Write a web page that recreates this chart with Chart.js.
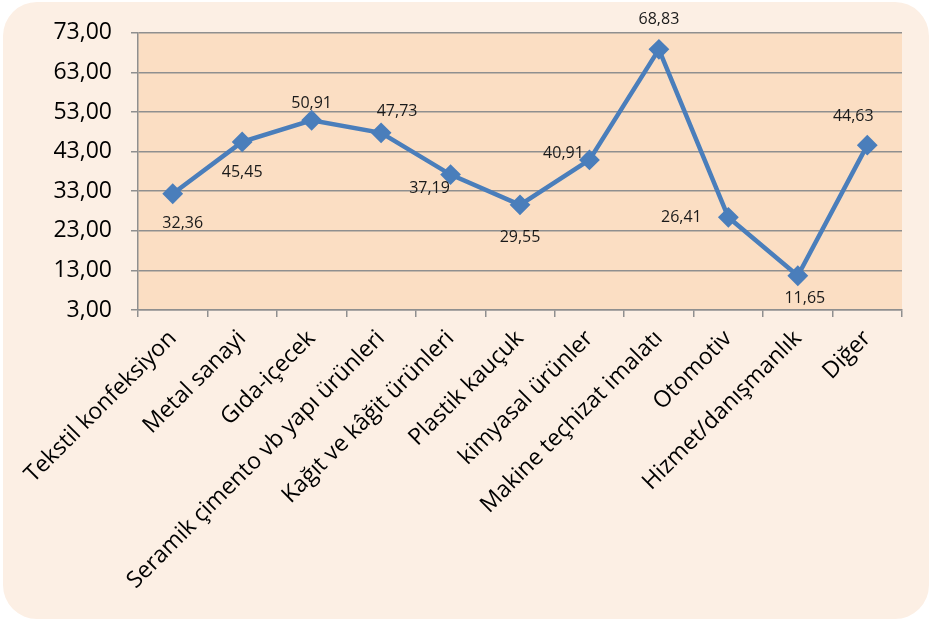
<!DOCTYPE html>
<html>
<head>
<meta charset="utf-8">
<script src="https://cdn.jsdelivr.net/npm/chart.js@4.4.1/dist/chart.umd.min.js"></script>
<style>
    html, body { margin: 0; padding: 0; background: #ffffff; }
    .chart-box { width: 932px; height: 623px; }
</style>
</head>
<body>
<div class="chart-box"><canvas id="line_chart"></canvas></div>
<script>
const categories = [
    "Tekstil konfeksiyon", "Metal sanayi", "Gıda-içecek", "Seramik çimento vb yapı ürünleri",
    "Kağıt ve kâğit ürünleri", "Plastik kauçuk", "kimyasal ürünler", "Makine teçhizat imalatı",
    "Otomotiv", "Hizmet/danışmanlık", "Diğer"
];
const values = [32.36, 45.45, 50.91, 47.73, 37.19, 29.55, 40.91, 68.83, 26.41, 11.65, 44.63];
const yTicks = [3, 13, 23, 33, 43, 53, 63, 73];

// where each value label sits relative to its marker (px)
const labelOffsets = [
    [10, 30], [0, 31], [0, -17], [16, -21], [-21, 14], [0, 33],
    [-26, -6], [0, -30], [-47, 0], [7, 23], [-14, -29]
];

const fmt = (v) => v.toFixed(2).replace(".", ",");
const FONT = "'Open Sans', sans-serif";
const lineColor = "#4A7EBB";
const gridColor = "#8f8f8f";

// cream card + peach plot area
const backgroundPlugin = {
    id: "background",
    beforeDraw(chart) {
        const { ctx, chartArea } = chart;
        ctx.save();
        ctx.fillStyle = "#FCEFE4";
        ctx.beginPath();
        ctx.roundRect(3, 2, 926, 617, 34);
        ctx.fill();
        ctx.fillStyle = "#FBDEC3";
        ctx.fillRect(chartArea.left, chartArea.top, chartArea.right - chartArea.left, chartArea.bottom - chartArea.top);
        ctx.restore();
    },
};

const valueLabels = {
    id: "valueLabels",
    afterDatasetsDraw(chart) {
        const { ctx } = chart;
        const meta = chart.getDatasetMeta(0);
        ctx.save();
        ctx.font = `16px ${FONT}`;
        ctx.fillStyle = "#1a1a1a";
        ctx.textAlign = "center";
        ctx.textBaseline = "middle";
        meta.data.forEach((pt, i) => {
            const [dx, dy] = labelOffsets[i];
            ctx.fillText(fmt(values[i]), pt.x + dx, pt.y + dy);
        });
        ctx.restore();
    },
};

const ctx = document.querySelector("#line_chart").getContext("2d");

const chart = new Chart(ctx, {
    type: "line",
    data: {
        labels: categories,
        datasets: [
            {
                data: values,
                borderColor: lineColor,
                borderWidth: 4.5,
                backgroundColor: lineColor,
                pointStyle: "rectRot",
                pointRadius: 9,
                pointBorderWidth: 2,
                pointBorderColor: lineColor,
                pointBackgroundColor: lineColor,
                tension: 0,
            },
        ],
    },
    options: {
        responsive: true,
        maintainAspectRatio: false,
        animation: false,
        layout: {
            padding: { top: 30, right: 30, left: 0, bottom: 0 },
        },
        plugins: {
            legend: { display: false },
            tooltip: { enabled: false },
        },
        scales: {
            x: {
                offset: true,
                grid: {
                    offset: true,
                    drawOnChartArea: false,
                    color: gridColor,
                    lineWidth: 1.5,
                    tickLength: 7,
                },
                border: { display: true, color: gridColor, width: 1.5 },
                ticks: {
                    autoSkip: false,
                    maxRotation: 45,
                    minRotation: 45,
                    padding: 8,
                    color: "#000000",
                    font: { family: FONT, size: 23 },
                },
                afterFit(scale) {
                    scale.height = 313;
                    scale.paddingLeft = 0;
                    scale.paddingRight = 0;
                },
            },
            y: {
                min: 3,
                max: 73,
                afterBuildTicks(scale) {
                    scale.ticks = yTicks.map((v) => ({ value: v }));
                },
                grid: {
                    color: gridColor,
                    lineWidth: 1.5,
                    tickLength: 7,
                },
                border: { display: true, color: gridColor, width: 1.5 },
                ticks: {
                    padding: 19,
                    color: "#000000",
                    font: { family: FONT, size: 23 },
                    callback: (v) => fmt(v),
                },
                afterFit(scale) {
                    scale.width = 138;
                },
            },
        },
    },
    plugins: [backgroundPlugin, valueLabels],
});
</script>
</body>
</html>
